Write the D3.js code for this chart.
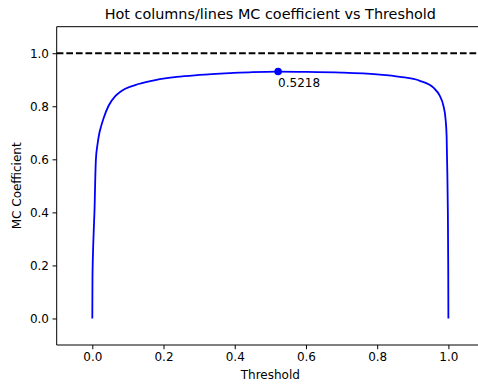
<!DOCTYPE html>
<html>
<head>
<meta charset="utf-8">
<script src="https://cdn.jsdelivr.net/npm/d3@7"></script>
<style>
	body { margin: 0; background: #fff; }
	text { font-family: "DejaVu Sans", sans-serif; fill: #000; }
</style>
</head>
<body>
<div id="content"></div>
<script>
// threshold vs MC coefficient
var thresholds = [0, 0.0005, 0.002, 0.004, 0.0065, 0.008, 0.010, 0.0145, 0.020, 0.0255, 0.0317, 0.0457, 0.0645, 0.078, 0.0925, 0.130, 0.177, 0.237, 0.3, 0.388, 0.45, 0.5218, 0.6, 0.7, 0.8, 0.864, 0.920, 0.958, 0.976, 0.986, 0.992, 0.995, 0.997, 0.9985, 0.9995, 1.0];
var mcValues = [0, 0.15, 0.25, 0.33, 0.423, 0.51, 0.598, 0.655, 0.70, 0.728, 0.755, 0.802, 0.838, 0.854, 0.866, 0.884, 0.899, 0.911, 0.918, 0.925, 0.929, 0.931, 0.930, 0.927, 0.920, 0.911, 0.896, 0.870, 0.839, 0.802, 0.752, 0.689, 0.55, 0.4, 0.2, 0];
var bestThreshold = 0.5218;
var bestMC = 0.931;
var xTicks = [0, 0.2, 0.4, 0.6, 0.8, 1.0];
var yTicks = [0, 0.2, 0.4, 0.6, 0.8, 1.0];

function main() {
	var width = 478, height = 388;
	var margin = { left: 56.7, top: 26.7, right: 484, bottom: 345 };

	var svg = d3.select("#content").append("svg")
		.attr("width", width)
		.attr("height", height);

	var x = d3.scaleLinear().domain([-0.1, 1.1]).range([margin.left, margin.right]);
	var y = d3.scaleLinear().domain([-0.1, 1.1]).range([margin.bottom, margin.top]);

	// reference line at 1.0
	svg.append("line")
		.attr("x1", margin.left).attr("x2", margin.right)
		.attr("y1", y(1)).attr("y2", y(1))
		.attr("stroke", "#000")
		.attr("stroke-width", 1.8)
		.attr("stroke-dasharray", "6.7,2.9");

	var line = d3.line()
		.x(function (d, i) { return x(thresholds[i]); })
		.y(function (d, i) { return y(mcValues[i]); })
		.curve(d3.curveMonotoneX);

	svg.append("path")
		.datum(mcValues)
		.attr("d", line)
		.attr("fill", "none")
		.attr("stroke", "#0000ff")
		.attr("stroke-width", 1.8);

	svg.append("circle")
		.attr("cx", x(bestThreshold))
		.attr("cy", y(bestMC))
		.attr("r", 3.8)
		.attr("fill", "#0000ff");

	svg.append("text")
		.attr("x", x(bestThreshold))
		.attr("y", y(bestMC) + 15)
		.attr("font-size", 12)
		.text(bestThreshold.toFixed(4));

	// spines
	svg.append("line")
		.attr("x1", margin.left).attr("x2", margin.left)
		.attr("y1", margin.top).attr("y2", margin.bottom)
		.attr("stroke", "#000").attr("stroke-width", 1);
	svg.append("line")
		.attr("x1", margin.left).attr("x2", margin.right)
		.attr("y1", margin.bottom).attr("y2", margin.bottom)
		.attr("stroke", "#000").attr("stroke-width", 1);
	svg.append("line")
		.attr("x1", margin.left).attr("x2", margin.right)
		.attr("y1", margin.top).attr("y2", margin.top)
		.attr("stroke", "#000").attr("stroke-width", 1);

	// x axis
	var xAxis = d3.axisBottom(x)
		.tickValues(xTicks)
		.tickFormat(d3.format(".1f"))
		.tickSize(4.2)
		.tickPadding(3.5);
	var gx = svg.append("g")
		.attr("transform", "translate(0," + margin.bottom + ")")
		.call(xAxis);
	gx.select(".domain").remove();
	gx.selectAll("text").attr("font-size", 12).attr("font-family", "DejaVu Sans").attr("fill", "#000");

	var yAxis = d3.axisLeft(y)
		.tickValues(yTicks)
		.tickFormat(d3.format(".1f"))
		.tickSize(4.2)
		.tickPadding(3.5);
	var gy = svg.append("g")
		.attr("transform", "translate(" + margin.left + ",0)")
		.call(yAxis);
	gy.select(".domain").remove();
	gy.selectAll("text").attr("font-size", 12).attr("font-family", "DejaVu Sans").attr("fill", "#000");

	// titles
	svg.append("text")
		.attr("x", (margin.left + margin.right) / 2)
		.attr("y", 19)
		.attr("text-anchor", "middle")
		.attr("font-size", 14.4)
		.text("Hot columns/lines MC coefficient vs Threshold");

	svg.append("text")
		.attr("x", (margin.left + margin.right) / 2)
		.attr("y", 379)
		.attr("text-anchor", "middle")
		.attr("font-size", 12)
		.text("Threshold");

	svg.append("text")
		.attr("transform", "translate(21," + (margin.top + margin.bottom) / 2 + ") rotate(-90)")
		.attr("text-anchor", "middle")
		.attr("font-size", 12)
		.text("MC Coefficient");
}

main();
</script>
</body>
</html>
